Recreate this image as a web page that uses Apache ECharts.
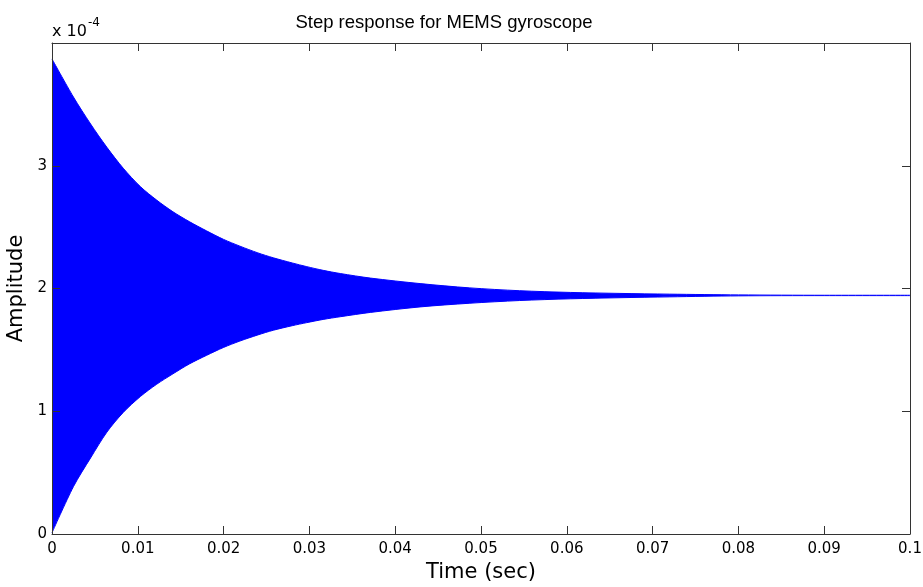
<!DOCTYPE html>
<html>
<head>
<meta charset="utf-8">
<title>Step response for MEMS gyroscope</title>
<script src="https://cdn.jsdelivr.net/npm/echarts@6/dist/echarts.min.js"></script>
<style>
  html, body { margin: 0; padding: 0; background: #fff; }
  #chart { width: 923px; height: 587px; }
</style>
</head>
<body>
<div id="chart"></div>
<script>
// time axis (sec) and envelope of the oscillating response, in units of 1e-4
const timeSec = [0, 0.0025, 0.0045, 0.0064, 0.0083, 0.0103, 0.0122, 0.0141, 0.016, 0.018,
  0.02, 0.0219, 0.024, 0.0258, 0.028, 0.0297, 0.0316, 0.0336, 0.0371, 0.0429,
  0.0487, 0.0545, 0.0604, 0.0662, 0.072, 0.08, 0.09, 0.1];
const upperEnv = [3.87, 3.56, 3.34, 3.15, 2.98, 2.83, 2.72, 2.625, 2.545, 2.47,
  2.40, 2.345, 2.29, 2.25, 2.208, 2.178, 2.148, 2.122, 2.085, 2.04,
  2.005, 1.982, 1.968, 1.96, 1.954, 1.948, 1.945, 1.945];
const lowerEnv = [0.01, 0.386, 0.62, 0.83, 0.99, 1.12, 1.22, 1.305, 1.385, 1.455,
  1.52, 1.572, 1.622, 1.66, 1.697, 1.722, 1.748, 1.77, 1.805, 1.85,
  1.88, 1.902, 1.916, 1.925, 1.932, 1.94, 1.942, 1.942];
const xTicks = ['0', '0.01', '0.02', '0.03', '0.04', '0.05', '0.06', '0.07', '0.08', '0.09', '0.1'];
const yTicks = ['0', '1', '2', '3'];

const FONT = 'DejaVu Sans, Verdana, sans-serif';
const TITLE_FONT = 'Liberation Sans, Arial, Helvetica, sans-serif';
const BLUE = '#0000ff';
const AXIS = '#333';

const chart = echarts.init(document.getElementById('chart'));

const upperData = timeSec.map((t, i) => [t, upperEnv[i]]);
const lowerData = timeSec.map((t, i) => [t, lowerEnv[i]]);

// box axes, drawn above the filled envelope
const axisCommon = {
  type: 'value',
  z: 10,
  axisLine: { show: true, onZero: false, lineStyle: { color: AXIS, width: 1 } },
  axisTick: { show: true, inside: true, length: 8, lineStyle: { color: AXIS } },
  splitLine: { show: false }
};

chart.setOption({
  animation: false,
  textStyle: { fontFamily: FONT },
  title: {
    text: 'Step response for MEMS gyroscope',
    left: 439, top: 8, textAlign: 'center',
    textStyle: { fontFamily: TITLE_FONT, fontSize: 18.5, fontWeight: 'normal', color: '#000' }
  },
  graphic: [{
    type: 'text', left: 52, top: 17,
    style: {
      text: '{a|x 10}{b|-4}',
      rich: {
        a: { fontFamily: FONT, fontSize: 16, fill: '#000', verticalAlign: 'bottom', padding: [7, 0, 0, 0] },
        b: { fontFamily: FONT, fontSize: 12, fill: '#000', verticalAlign: 'top', padding: [0, 0, 0, 1] }
      }
    }
  }],
  grid: { left: 52, right: 13, top: 43, bottom: 53, containLabel: false, outerBoundsMode: 'none' },
  xAxis: [
    Object.assign({}, axisCommon, {
      min: 0, max: 0.1, interval: 0.01,
      name: 'Time (sec)', nameLocation: 'middle', nameGap: 26,
      nameTextStyle: { fontFamily: FONT, fontSize: 21, color: '#000' },
      axisLabel: {
        margin: 8, fontSize: 15, color: '#000', fontFamily: FONT,
        formatter: v => xTicks[Math.round(v * 100)]
      }
    }),
    Object.assign({}, axisCommon, {
      position: 'top', min: 0, max: 0.1, interval: 0.01,
      axisLabel: { show: false }
    })
  ],
  yAxis: [
    Object.assign({}, axisCommon, {
      min: 0, max: 4, interval: 1,
      name: 'Amplitude', nameLocation: 'middle', nameGap: 21,
      nameTextStyle: { fontFamily: FONT, fontSize: 21, color: '#000' },
      axisLabel: {
        margin: 5, fontSize: 15, color: '#000', fontFamily: FONT,
        formatter: v => (yTicks[v] !== undefined ? yTicks[v] : '')
      }
    }),
    Object.assign({}, axisCommon, {
      position: 'right', min: 0, max: 4, interval: 1,
      axisLabel: { show: false }
    })
  ],
  series: [
    {
      // upper envelope, filled down to the axis
      name: 'upper',
      type: 'line',
      smooth: 0.3,
      symbol: 'none',
      data: upperData,
      lineStyle: { color: BLUE, width: 1 },
      areaStyle: { color: BLUE, opacity: 1 },
      z: 2
    },
    {
      // lower envelope, white fill clears the area below it
      name: 'lower',
      type: 'line',
      smooth: 0.3,
      symbol: 'none',
      data: lowerData,
      lineStyle: { color: BLUE, width: 1 },
      areaStyle: { color: '#fff', opacity: 1 },
      z: 3
    }
  ]
});
</script>
</body>
</html>
